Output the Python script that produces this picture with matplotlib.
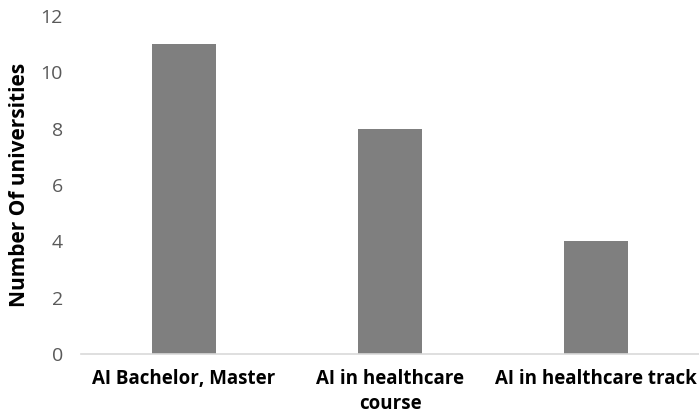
import matplotlib.pyplot as plt

categories = ["AI Bachelor, Master", "AI in healthcare\ncourse", "AI in healthcare track"]
counts = [11, 8, 4]

plt.rcParams['font.family'] = ['Open Sans', 'DejaVu Sans']

fig = plt.figure(figsize=(6.99, 4.18), dpi=100)
ax = fig.add_axes([0.116, 0.153, 0.884, 0.809])

x = list(range(len(categories)))
ax.bar(x, counts, width=0.31, color='#7f7f7f', zorder=2)

ax.set_xlim(-0.5, 2.5)
ax.set_ylim(0, 12)
ax.set_yticks(range(0, 13, 2))
ax.set_xticks(x)
ax.set_xticklabels(categories, fontweight='bold', fontsize=13.5, color='#000000', linespacing=1.3)
ax.tick_params(axis='y', length=0, labelsize=14, labelcolor='#595959', pad=13)
ax.tick_params(axis='x', length=0, pad=11)

for s in ['top', 'right', 'left']:
    ax.spines[s].set_visible(False)
ax.spines['bottom'].set_color('#d9d9d9')
ax.spines['bottom'].set_linewidth(1.2)

ax.set_ylabel("Number Of universities", fontweight='bold', fontsize=15, color='#000000', labelpad=8)

fig.savefig("out.png", dpi=100)
